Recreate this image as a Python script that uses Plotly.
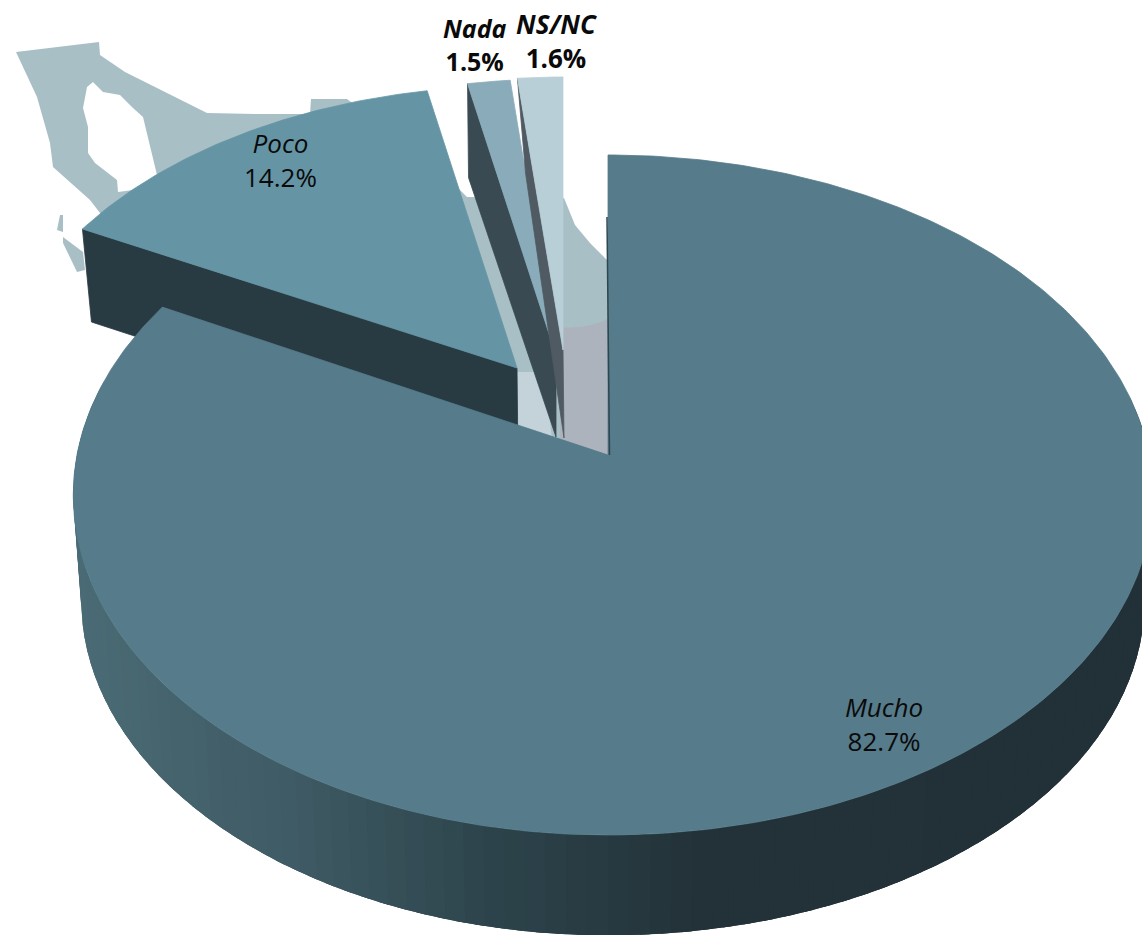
import numpy as np
import plotly.graph_objects as go

# ---- data ----
categories = ["Mucho", "Poco", "Nada", "NS/NC"]
values = [82.7, 14.2, 1.5, 1.6]

# ---- styling / projection ----
W, H = 1142, 935
PERSP = 0.1176
K = 335.3
R_LEFT, R_RIGHT = 531, 541
TOP_COL = ["#567b8a", "#6595a5", "#8aacba", "#b9cfd8"]
SIDE_COL = [None, "#283a42", "#3a4a52", "#4f5a62"]
# apex x,y / scale x,y / wall offset at the outer corner / wall offset at the apex
SLICE_GEOM = [
    dict(apex=(608, 455), s=(1, 1), corner=(0, 0), drop=(0, 0)),
    dict(apex=(517, 368), s=(0.975, 0.94), corner=(9, 93), drop=(1, 93)),
    dict(apex=(556, 355), s=(0.96, 0.92), corner=(1, 94), drop=(0, 82)),
    dict(apex=(563, 350), s=(0.955, 0.91), corner=(8, 94), drop=(1, 88)),
]
LABEL_POS = [(884, 724), (280, 160), (475, 44), (556, 41)]
LABEL_BOLD = [False, False, True, True]
LABEL_SIZE = [26, 26, 25, 26]
GRAD_X = [85, 300, 480, 700, 1142]
GRAD_RGB = np.array([[74, 107, 117], [63, 90, 100], [46, 69, 77], [36, 50, 57], [34, 49, 56]])


def rim(theta_deg, depth=0.0):
    """Project angle(s) on the pie rim to page pixels (perspective ellipse)."""
    t = np.radians(np.asarray(theta_deg, dtype=float))
    u, v = np.sin(t), np.cos(t)
    d = 1 + PERSP * v
    r = np.where(u < 0, R_LEFT, R_RIGHT)
    if depth:
        return 608 + 0.985 * r * u / d, 561 - 0.985 * K * v / d
    return r * u / d, -K * v / d


def polygon(xs, ys, color, width=0.8):
    return go.Scatter(x=list(xs), y=list(ys), mode="lines", fill="toself", fillcolor=color,
                      line=dict(color=color, width=width),
                      hoverinfo="skip", showlegend=False)


bounds = np.concatenate([[0], np.cumsum(values)]) / sum(values) * 360
fig = go.Figure()

# exploded slices, walls first
for i in (1, 2, 3):
    g = SLICE_GEOM[i]
    ax, ay = g["apex"]
    a, b = bounds[i], bounds[i + 1]
    th = np.linspace(a, b, 80)
    rx, ry = rim(th)
    px = ax + g["s"][0] * rx
    py = ay + g["s"][1] * ry
    cx, cy = px[0], py[0]
    fig.add_trace(polygon([cx, ax, ax + g["drop"][0], cx + g["corner"][0], cx],
                          [cy, ay, ay + g["drop"][1], cy + g["corner"][1], cy], SIDE_COL[i]))
    fig.add_trace(polygon([ax, *px, ax], [ay, *py, ay], TOP_COL[i]))

# main slice: shaded outer wall as overlapping strips (painted right to left)
edges = np.linspace(80, 280, 101)
step = edges[1] - edges[0]
for a in edges[:-1]:
    th = np.linspace(a, a + 2.5 * step, 6)
    tx, ty = rim(th)
    tx, ty = 608 + tx, 455 + ty
    bx, by = rim(th, depth=1)
    mx = float(tx[1])
    col = [int(np.interp(mx, GRAD_X, GRAD_RGB[:, c])) for c in range(3)]
    color = f"rgb({col[0]},{col[1]},{col[2]})"
    fig.add_trace(polygon([*tx, *bx[::-1], tx[0]], [*ty, *by[::-1], ty[0]], color, width=0))

# main slice: top face
th = np.linspace(bounds[0], bounds[1], 400)
rx, ry = rim(th)
ax, ay = SLICE_GEOM[0]["apex"]
fig.add_trace(polygon([ax, *(ax + rx), ax], [ay, *(ay + ry), ay], TOP_COL[0]))

# labels
annotations = []
for name, val, (lx, ly), bold, size in zip(categories, values, LABEL_POS, LABEL_BOLD, LABEL_SIZE):
    txt = f"<i>{name}</i><br>{val}%"
    if bold:
        txt = f"<b><i>{name}</i></b><br><b>{val}%</b>"
    annotations.append(dict(x=lx, y=ly, xref="x", yref="y", text=txt, showarrow=False,
                            align="center", xanchor="center", yanchor="middle",
                            font=dict(family="Open Sans", size=size, color="#0a0a0a")))

# decorative background map of Mexico
MAP = ("M16,52 L99,42 L100,55 L125,72 L207,113 L257,114 L310,114 L311,99 L347,99 L440,170 "
       "L467,197 L564,198 L575,225 L590,243 L607,260 L610,455 L520,430 L300,300 L110,225 "
       "L100,213 L90,200 L53,167 L50,143 L37,97 Z "
       "M93,82 L87,87 L83,108 L88,127 L88,153 L95,163 L117,180 L118,192 L133,190 L157,175 "
       "L143,117 L133,108 L120,95 L103,92 Z")
shapes = [
    dict(type="path", path=MAP, fillcolor="#a9bfc6", fillrule="evenodd", line_width=0, layer="below"),
    dict(type="path", path="M60,215 L57,230 L63,232 L63,215 Z", fillcolor="#a9bfc6", line_width=0, layer="below"),
    dict(type="path", path="M63,237 L83,252 L85,270 L77,272 L63,243 Z", fillcolor="#a9bfc6", line_width=0, layer="below"),
    dict(type="path", path="M516,372 L545,372 L552,440 L516,430 Z", fillcolor="#c3d3d9", line_width=0, layer="below"),
    dict(type="path", path="M560,327 Q585,330 610,318 L610,458 L560,440 Z", fillcolor="#adb3bc", line_width=0, layer="below"),
    dict(type="line", x0=607, y0=217, x1=609.5, y1=455, line=dict(color="#2d4750", width=1.5), layer="above"),
]

fig.update_layout(
    width=W, height=H, margin=dict(l=0, r=0, t=0, b=0),
    paper_bgcolor="white", plot_bgcolor="white", showlegend=False,
    xaxis=dict(range=[0, W], visible=False, fixedrange=True),
    yaxis=dict(range=[H, 0], visible=False, fixedrange=True),
    annotations=annotations, shapes=shapes,
)
fig.write_html("out.html", post_script="document.body.style.margin='0';", config=dict(displayModeBar=False))
